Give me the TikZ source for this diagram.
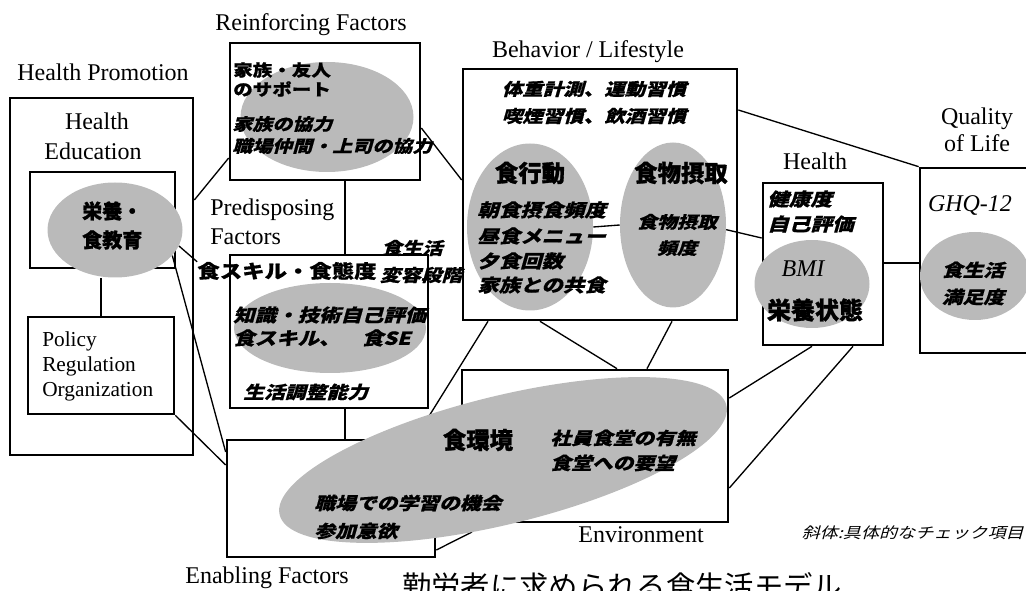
\documentclass[tikz,border=0pt]{standalone}
\usepackage{fontspec}
\setmainfont{Liberation Serif}
\newfontfamily\jp{Noto Sans CJK JP}[BoldFeatures={FakeBold=1.2}]
\newfontfamily\jps{Noto Sans CJK JP}[FakeStretch=1.2,BoldFeatures={FakeStretch=1.2,FakeBold=0.8}]
\newfontfamily\jpi{Noto Sans CJK JP}[FakeStretch=1.2,FakeSlant=0.28,BoldFeatures={FakeStretch=1.2,FakeSlant=0.28,FakeBold=0.6}]
\usetikzlibrary{shapes.geometric,fit}
\tikzset{
  box/.style={draw, line width=2pt, inner sep=0pt, rectangle},
  wire/.style={line width=1pt},
  blob/.style={ellipse, fill=black!27, inner sep=0pt, draw=none},
  lab/.style={inner sep=0pt, anchor=base, font=\fontsize{#1}{#1}\selectfont},
  labi/.style={inner sep=0pt, anchor=base, font=\itshape\fontsize{#1}{#1}\selectfont},
  jb/.style={inner sep=0pt, font=\jp\bfseries\fontsize{#1}{#1}\selectfont},
  jbs/.style={inner sep=0pt, font=\jps\bfseries\fontsize{#1}{#1}\selectfont},
  ji/.style={inner sep=0pt, font=\jpi\bfseries\fontsize{#1}{#1}\selectfont},
  jr/.style={inner sep=0pt, font=\jpi\fontsize{#1}{#1}\selectfont},
}
\begin{document}
\begin{tikzpicture}[x=0.75pt,y=-0.75pt]
\useasboundingbox (0,0) rectangle (1026,591);
% ---------- boxes ----------
\node[box, fit={(10,98) (193,455)}] (hp) {};
\node[box, fit={(30,172) (175,268)}] (heb) {};
\node[box, fit={(28,317) (174,414)}] (pol) {};
\node[box, fit={(230,43) (420,180)}] (rf) {};
\node[box, fit={(230,255) (428,408)}] (pd) {};
\node[box, fit={(227,440) (435,557)}] (en) {};
\node[box, fit={(462,370) (728,522)}] (env) {};
\node[box, fit={(463,69) (737,320)}] (beh) {};
\node[box, fit={(763,183) (883,345)}] (he) {};
\node[box, fit={(920,168) (1045,353)}] (qol) {};
% ---------- ellipse placeholders (for names) ----------
\node[inner sep=0pt, ellipse, minimum width=135*0.75pt, minimum height=95*0.75pt] (e-ne) at (115,230) {};
\node[inner sep=0pt, ellipse, minimum width=106*0.75pt, minimum height=165*0.75pt] (e-fi) at (673,225) {};
\node[inner sep=0pt, ellipse, minimum width=126*0.75pt, minimum height=167*0.75pt] (e-fb) at (530,227) {};
\node[jbs=14] (sk) at (287,271) {食スキル・食態度};
% ---------- connectors ----------
\draw[wire] (hp.east |- 0,200) -- (rf.west |- 0,158);
\draw[wire] (rf.east |- 0,128) -- (beh.west |- 0,180);
\draw[wire] (rf.south -| 345,0) -- (pd.north -| 345,0);
\draw[wire] (e-ne.-14) -- (sk.north west);
\draw[wire] (e-ne.-24) -- (en.west |- 0,452);
\draw[wire] (pol.south east) -- (en.west |- 0,465);
\draw[wire] (pol.north |- e-ne.south) -- (pol.north);
\draw[wire] (pd.south -| 345,0) -- (en.north -| 345,0);
\draw[wire] (en.north -| 415,0) -- (beh.south -| 488,0);
\draw[wire] (beh.south -| 540,0) -- (env.north -| 617,0);
\draw[wire] (beh.south -| 672,0) -- (env.north -| 647,0);
\coordinate (envtail) at (472,532);
\draw[wire] (en.east |- 0,550) -- (envtail);
\draw[wire] (e-fb.east) -- (e-fi.west);
\draw[wire] (e-fi.-5) -- (he.west |- 0,238);
\draw[wire] (beh.east |- 0,110) -- (qol.north west);
\draw[wire] (he.east |- 0,263) -- (qol.west |- 0,263);
\draw[wire] (he.south -| 812,0) -- (env.east |- 0,398);
\draw[wire] (he.south -| 853,0) -- (env.east |- 0,488);
% ---------- shaded ellipses ----------
\node[blob, minimum width=135*0.75pt, minimum height=95*0.75pt] at (e-ne) {};
\node[blob, minimum width=173*0.75pt, minimum height=110*0.75pt] (e-rf) at (327,117) {};
\node[blob, minimum width=192*0.75pt, minimum height=90*0.75pt] (e-pd) at (330,328) {};
\node[blob, minimum width=126*0.75pt, minimum height=167*0.75pt] at (e-fb) {};
\node[blob, minimum width=106*0.75pt, minimum height=165*0.75pt] at (e-fi) {};
\node[blob, minimum width=115*0.75pt, minimum height=88*0.75pt] (e-he) at (812,284) {};
\node[blob, minimum width=110*0.75pt, minimum height=88*0.75pt] (e-qol) at (975,276) {};
\node[blob, rotate=13.8, minimum width=460*0.75pt, minimum height=128*0.75pt] (e-env) at (503,460) {};
% ---------- English labels ----------
\node[lab=18] (t-hp) at (103,81) {Health Promotion};
\node[lab=18] (t-he1) at (97,130) {Health};
\node[lab=18] (t-he2) at (93,160) {Education};
\node[lab=16, anchor=base west] (t-po1) at (42,347) {Policy};
\node[lab=16, anchor=base west] (t-po2) at (42,372) {Regulation};
\node[lab=16, anchor=base west] (t-po3) at (42,397) {Organization};
\node[lab=18] (t-rf) at (311,31) {Reinforcing Factors};
\node[lab=18, anchor=base west] (t-pd1) at (210,216) {Predisposing};
\node[lab=18, anchor=base west] (t-pd2) at (210,245) {Factors};
\node[lab=18] (t-beh) at (588,58) {Behavior / Lifestyle};
\node[lab=18] (t-h) at (815,170) {Health};
\node[lab=18] (t-q1) at (977,125) {Quality};
\node[lab=18] (t-q2) at (977,152) {of Life};
\node[lab=18] (t-env) at (641,543) {Environment};
\node[lab=18] (t-en) at (267,584) {Enabling Factors};
\node[labi=18] (t-ghq) at (970,212) {GHQ-12};
\node[labi=18] (t-bmi) at (803,277) {BMI};
% ---------- Japanese texts ----------
\node[jb=15, anchor=west] at (82,211) {栄養・};
\node[jb=15, anchor=west] at (82,240) {食教育};
\node[jbs=12.2, anchor=west] at (233,70) {家族・友人};
\node[jbs=12.2, anchor=west] at (233,89) {のサポート};
\node[ji=12.5, anchor=west] at (232,124) {家族の協力};
\node[ji=12.5, anchor=west] at (232,146) {職場仲間・上司の協力};
\node[ji=12.7] at (412,248) {食生活};
\node[ji=12.8] at (421,275) {変容段階};
\node[ji=13.4, anchor=west] at (233,315) {知識・技術自己評価};
\node[ji=13.4, anchor=west] at (233,338) {食スキル、\hspace{1.2em}食SE};
\node[ji=13, anchor=west] at (243,392) {生活調整能力};
\node[ji=12.8] at (594,89) {体重計測、運動習慣};
\node[ji=12.8] at (594,116) {喫煙習慣、飲酒習慣};
\node[jb=17.5] at (530,173) {食行動};
\node[ji=13.4, anchor=west] at (477,210) {朝食摂食頻度};
\node[ji=13.4, anchor=west] at (477,236) {昼食メニュー};
\node[ji=13.4, anchor=west] at (477,261) {夕食回数};
\node[ji=13.4, anchor=west] at (477,285) {家族との共食};
\node[jb=17.5] at (681,173) {食物摂取};
\node[ji=12.5] at (677,222) {食物摂取};
\node[ji=12.5] at (677,248) {頻度};
\node[ji=13.5, anchor=west] at (767,199) {健康度};
\node[ji=13.5, anchor=west] at (767,224) {自己評価};
\node[jb=18] at (815,310) {栄養状態};
\node[ji=13] at (973,270) {食生活};
\node[ji=13] at (973,297) {満足度};
\node[jb=17.5] at (478,440) {食環境};
\node[ji=13, anchor=west] at (550,438) {社員食堂の有無};
\node[ji=13, anchor=west] at (550,463) {食堂への要望};
\node[ji=13, anchor=west] at (314,503) {職場での学習の機会};
\node[ji=13, anchor=west] at (314,531) {参加意欲};
\node[jr=11.3, anchor=east] at (1024,533) {斜体:具体的なチェック項目};
\node[inner sep=0pt, anchor=north west, font=\jp\fontsize{22}{22}\selectfont] at (402,572) {勤労者に求められる食生活モデル};
\end{tikzpicture}
\end{document}
